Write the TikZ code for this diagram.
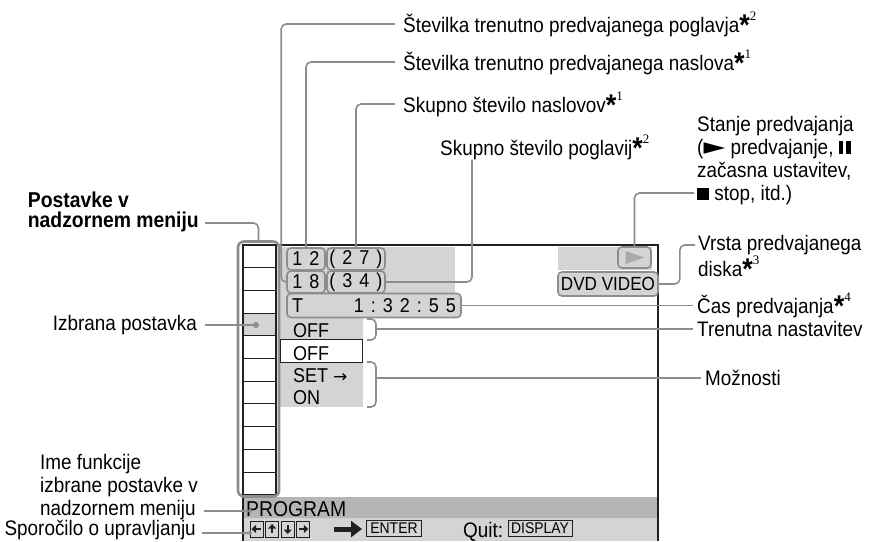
\documentclass[tikz,border=0pt]{standalone}
\usepackage{fontspec}
\setmainfont[FakeStretch=0.9]{Liberation Sans}
\newfontfamily\serif{Liberation Serif}
\newfontfamily\symb{DejaVu Sans}
\usetikzlibrary{arrows.meta,positioning,calc}
\definecolor{Ink}{HTML}{231F20}
\definecolor{Wire}{HTML}{8C8D8F}
\definecolor{Screen}{HTML}{D3D4D6}
\definecolor{Bar}{HTML}{B4B5B7}
\newcommand{\fn}[1]{\raisebox{-3pt}{\fontsize{30}{30}\selectfont\bfseries*}\raisebox{12pt}{\fontsize{13}{13}\selectfont\serif #1}}
\newcommand{\gap}{\hspace{7pt}}
\newcommand{\pausesym}{\rule{4.5pt}{13pt}\hspace{3pt}\rule{4.5pt}{13pt}}
\newcommand{\stopsym}{\rule{12pt}{12pt}}
\newcommand{\playsym}{\scalebox{1.35}[1.1]{\symb ►}}

\begin{document}
\begin{tikzpicture}[x=1pt,y=-1pt,
  every node/.style={inner sep=0pt,font=\fontsize{21}{23}\selectfont,align=left},
  wire/.style={draw=Wire,line width=1.6pt,rounded corners=5pt},
  numbox/.style={draw=Wire,fill=Screen,line width=1.6pt,rounded corners=4pt,minimum height=22pt,font=\fontsize{20}{20}\selectfont},
  keybox/.style={draw=Ink,line width=0.8pt,minimum width=13pt,minimum height=16pt},
  tag/.style={draw=Ink,line width=0.8pt,minimum height=16pt,font=\fontsize{15.5}{15.5}\selectfont},
  bead/.style={circle,fill=Wire,minimum size=#1},
  entry/.style={anchor=base west,font=\fontsize{20}{20}\selectfont}]
  \useasboundingbox (0,0) rectangle (875,541);
  % screen
  \fill[Screen] (279,247) rectangle (455,318);
  \fill[Screen] (279,318) rectangle (363,407);
  \fill[Screen] (558,247) rectangle (652,270);
  \fill[Bar] (243,497) rectangle (658,518);
  \fill[Screen] (243,518) rectangle (658,541);
  \draw[Ink,line width=1.3pt] (276,245) -- (658,245) -- (658,541);
  \draw[Ink,line width=1.3pt] (243,245) -- (243,541);
  % menu column
  \fill[Screen] (243,313.1) rectangle (276,335.8);
  \draw[Ink,line width=1.3pt] (243,245) rectangle (276,495);
  \foreach \i in {1,...,10}
    \draw[Ink,line width=1pt] (243,245+\i*22.7) -- (276,245+\i*22.7);
  \node[draw=Wire,line width=2.6pt,rounded corners=6pt,minimum width=41pt,minimum height=255pt] (menu) at (258.5,369) {};

  % numbers and settings
  \node[numbox,minimum width=38pt] (n12) at (306,259) {1\gap2};
  \node[numbox,minimum width=58pt] (n27) at (356,259) {(\gap2\gap7\gap)};
  \node[numbox,minimum width=38pt] (n18) at (306,282) {1\gap8};
  \node[numbox,minimum width=58pt] (n34) at (356,282) {(\gap3\gap4\gap)};
  \node[numbox,minimum width=174pt,minimum height=24pt] (clock) at (374,305.5) {\makebox[164pt][l]{T\hfill1\gap:\gap3\gap2\gap:\gap5\gap5}};
  \node[draw=Ink,fill=white,line width=0.8pt,minimum width=82pt,minimum height=23pt] (pick) at (321,350.5) {};
  \node[entry] (cur) at (293,337) {OFF};
  \node[entry] (alt) at (293,360) {OFF};
  \node[entry] (setto) at (293,382) {SET {\symb\fontsize{17}{17}\selectfont →}};
  \node[entry] (on) at (293,404) {ON};
  \draw[wire] (367,319) -| (376,340) -- (367,340);
  \draw[wire] (367,362) -| (376,407) -- (367,407);
  \coordinate (br1) at (376,328);
  \coordinate (br2) at (376,378);

  \node[draw=Wire,line width=1.6pt,rounded corners=4pt,minimum width=33pt,minimum height=21pt] (play) at (634.5,257.5) {};
  \fill[Wire!75] ([xshift=-9pt,yshift=6.5pt]play.center) -- ([xshift=10pt]play.center) -- ([xshift=-9pt,yshift=-6.5pt]play.center) -- cycle;
  \node[numbox,minimum width=100pt,minimum height=24pt,font=\fontsize{19}{19}\selectfont] (disc) at (608,284) {DVD VIDEO};

  % bottom bars
  \node[anchor=base west,font=\fontsize{21.5}{22}\selectfont] (prog) at (246,516) {PROGRAM};
  \foreach \ang/\back [count=\i] in {180/0,270/90,90/270,0/180} {
    \node[keybox] (k\i) at (256.5+15.6*\i-15.6,529) {};
    \draw[Ink,line width=2.2pt,-{Triangle[length=4.5pt,width=8pt]}] ([shift={(\back:4)}]k\i.center) -- ([shift={(\ang:5)}]k\i.center);
  }
  \draw[Ink,line width=5pt,-{Triangle[length=11pt,width=16pt]}] (334,529) -- (362,529);
  \node[tag,minimum width=55pt] (enter) at (394,528) {ENTER};
  \node[anchor=base west] (quit) at (463,537) {Quit:};
  \node[tag,minimum width=64pt] (show) at (540,528) {DISPLAY};

  % labels left
  \node[anchor=base east,font=\fontsize{21.5}{20}\selectfont\bfseries] (items) at (199,227) {Postavke v\\nadzornem meniju};
  \node[anchor=east] (chosen) at (197,325) {Izbrana postavka};
  \node[anchor=base east] (fname) at (198,515) {Ime funkcije\\izbrane postavke v\\nadzornem meniju};
  \node[anchor=east] (msg) at (196,530.5) {Sporočilo o upravljanju};
  \node[bead=6pt] (chdot) at (256,325) {};
  \node[bead=4pt] (pdot) at (250,511) {};
  \node[bead=4pt] (mdot) at (250,533) {};
  \draw[wire] ([xshift=6pt,yshift=4pt]items.base east) -| (menu.north);
  \draw[wire] ([xshift=8pt]chosen.east |- chdot) -- (chdot);
  \draw[wire] ([xshift=6pt]fname.east |- pdot) -- (pdot);
  \draw[wire] ([xshift=6pt]msg.east |- mdot) -- (mdot);

  % labels top
  \node[anchor=west] (chapno) at (403,24) {Številka trenutno predvajanega poglavja\fn{2}};
  \node[anchor=west] (titleno) at (403,62) {Številka trenutno predvajanega naslova\fn{1}};
  \node[anchor=west] (titles) at (403,104) {Skupno število naslovov\fn{1}};
  \node[anchor=base west] (chapters) at (440,155) {Skupno število poglavij\fn{2}};
  \draw[wire] ([xshift=-8pt]chapno.west) -| ([xshift=-5pt]n18.west) -- (n18.west);
  \draw[wire] ([xshift=-8pt]titleno.west) -| (n12.north);
  \draw[wire] ([xshift=-8pt]titles.west) -| (n27.north);
  \draw[wire] ([xshift=32pt]chapters.south west) |- (n34.east);

  % labels right
  \node[anchor=base west] (state) at (697,200) {Stanje predvajanja\\(\playsym\ predvajanje, \pausesym\\začasna ustavitev,\\\stopsym\ stop, itd.)};
  \node[anchor=base west] (disctype) at (698,276) {Vrsta predvajanega\\diska\fn{3}};
  \node[anchor=west] (time) at (697,305.5) {Čas predvajanja\fn{4}};
  \node[anchor=west] (now) at (697,329) {Trenutna nastavitev};
  \node[anchor=west] (opts) at (705,378) {Možnosti};
  \draw[wire] (play.north) |- ([xshift=-3pt,yshift=7pt]state.base west);
  \draw[wire] (disc.east) -- ++(21,0) |- ([xshift=-3pt,yshift=31pt]disctype.base west);
  \draw[wire] (clock.east) -- ([xshift=-4pt]time.west);
  \draw[wire] (br1 |- now.west) -- ([xshift=-4pt]now.west);
  \draw[wire] (br2) -- ([xshift=-4pt]opts.west);
\end{tikzpicture}
\end{document}
